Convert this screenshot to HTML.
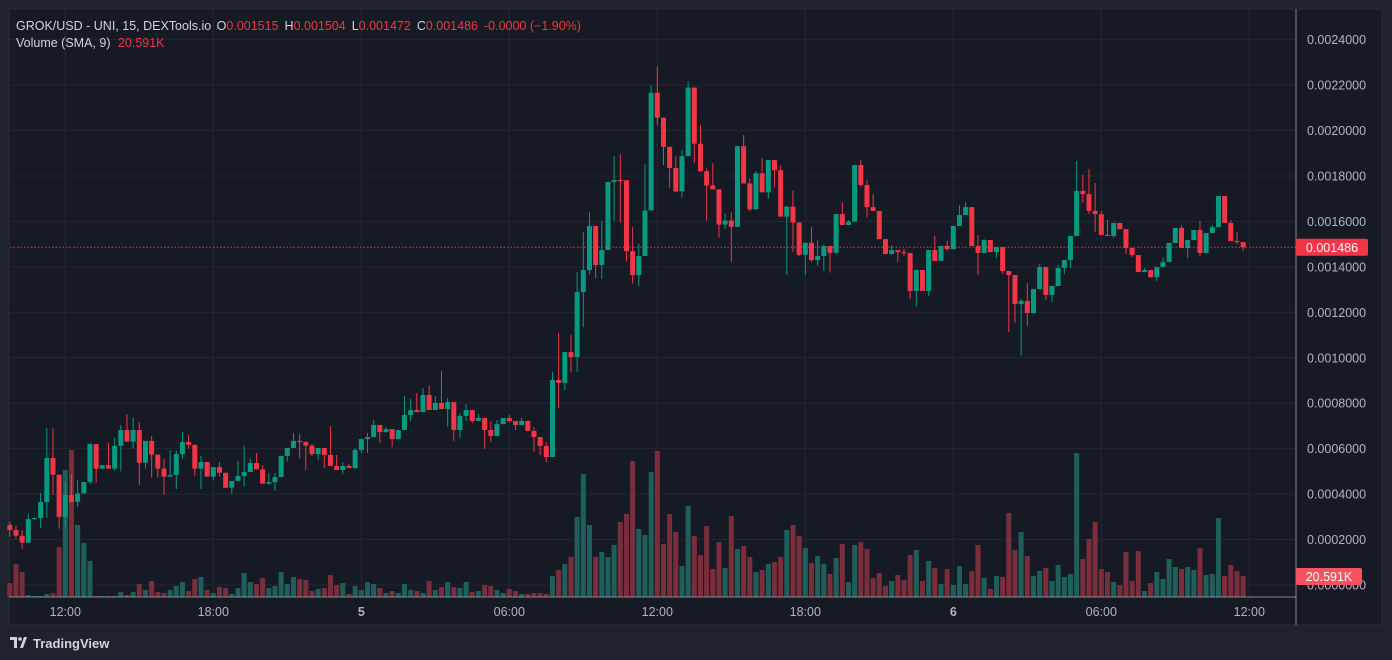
<!DOCTYPE html>
<html><head><meta charset="utf-8">
<style>
html,body{margin:0;padding:0;background:#1e222d;width:1392px;height:660px;overflow:hidden;font-family:"Liberation Sans",sans-serif;}
svg{display:block}
</style></head>
<body>
<svg id="chart" width="1392" height="660" xmlns="http://www.w3.org/2000/svg">
  <rect x="0" y="0" width="1392" height="660" fill="#1e222d"/>
  <rect x="9" y="9" width="1373" height="616" fill="#161a25" stroke="#2a2e39"/>
  <g id="grid"></g>
  <g id="vols"></g>
  <g id="candles"></g>
  <line x1="1296" y1="9" x2="1296" y2="625" stroke="#b2b5be" stroke-width="1" opacity="0.7"/>
  <line x1="9" y1="597" x2="1296" y2="597" stroke="#b2b5be" stroke-width="1" opacity="0.7"/>
  <g id="yticks"></g>
  <g id="xticks"></g>
  <line id="lastline" x1="10" x2="1296" stroke="#f23645" stroke-width="1" stroke-dasharray="1.5,2"/>
  <g>
    <rect id="lastbox" x="1296" width="72" height="17" rx="2" fill="#f23645"/>
    <text id="lasttext" x="1332" fill="#ffffff" font-size="12.5" text-anchor="middle">0.001486</text>
  </g>
  <g>
    <rect x="1296" y="568" width="66" height="17" rx="2" fill="#f7525f"/>
    <text x="1329" y="581" fill="#ffffff" font-size="12.5" text-anchor="middle">20.591K</text>
  </g>
  <g font-size="12.5">
    <text x="16" y="30" fill="#d1d4dc">GROK/USD - UNI, 15, DEXTools.io <tspan dx="2">O</tspan><tspan fill="#f23645">0.001515</tspan><tspan dx="6">H</tspan><tspan fill="#f23645">0.001504</tspan><tspan dx="6">L</tspan><tspan fill="#f23645">0.001472</tspan><tspan dx="6">C</tspan><tspan fill="#f23645">0.001486</tspan><tspan dx="6" fill="#f23645">-0.0000 (−1.90%)</tspan></text>
    <text x="16" y="47" fill="#d1d4dc">Volume (SMA, 9) <tspan dx="4" fill="#f23645">20.591K</tspan></text>
  </g>
  <g>
    <path d="M10 637 h7 v11 h-3 v-8 h-4z M20 648 l4-11 h3 l-4 11z" fill="#d1d4dc"/>
    <circle cx="20" cy="639" r="1.8" fill="#d1d4dc"/>
    <text x="33" y="648" fill="#d1d4dc" font-size="13" font-weight="bold">TradingView</text>
  </g>
</svg>
<script>
const firstOpen = 264;
const closes = [242,217,186,290,295,365,559,485,300,396,366,403,453,620,512,527,512,612,682,631,682,538,634,574,512,477,484,576,629,617,512,541,477,519,
494,428,458,480,497,537,509,446,453,475,568,603,634,629,613,576,603,572,524,506,524,515,594,642,651,704,673,686,642,682,748,770,761,
836,770,801,774,805,682,744,770,722,735,682,656,708,735,722,704,722,678,651,612,563,902,889,1025,1003,1289,1386,1580,1408,1474,1773,1782,
1781,1469,1364,1448,1648,2166,2056,1928,1835,1732,1887,2189,1942,1821,1758,1741,1586,1604,1576,1931,1767,1653,1812,1728,1870,1825,1621,1665,1595,1453,1506,1430,1448,1492,1462,
1632,1584,1599,1848,1760,1663,1646,1522,1456,1474,1465,1461,1294,1386,1294,1474,1426,1492,1478,1580,1628,1663,1492,1461,1518,1465,1487,1382,1364,1236,1250,1197,1302,1399,1276,
1316,1395,1430,1536,1734,1720,1646,1632,1540,1536,1593,1566,1483,1452,1377,1386,1355,1399,1421,1505,1571,1483,1518,1562,1461,1549,1575,1712,1593,1514,1509,1486];
const highs = [279,260,242,312,295,405,691,691,485,455,488,462,453,625,620,527,626,647,704,752,739,717,634,656,574,554,594,591,673,660,617,568,541,519,
541,494,458,546,612,554,581,528,493,493,568,603,669,664,634,620,603,603,700,572,541,532,603,642,669,726,704,695,686,682,832,818,845,
867,880,832,942,823,805,757,796,770,752,735,722,726,735,748,722,735,722,695,651,629,937,1109,1025,1100,1377,1553,1641,1580,1602,1773,1888,
1896,1781,1576,1502,1851,2198,2282,2056,1928,1887,1914,2215,2189,2024,1833,1856,1741,1635,1639,1931,1980,1790,1821,1879,1870,1870,1847,1665,1737,1595,1506,1576,1517,1497,1492,
1632,1685,1606,1848,1870,1782,1720,1646,1522,1496,1474,1480,1461,1386,1386,1474,1536,1492,1515,1580,1672,1685,1663,1540,1522,1518,1487,1487,1382,1364,1258,1329,1302,1412,1399,
1316,1408,1430,1536,1866,1804,1830,1769,1646,1606,1593,1593,1566,1483,1452,1395,1386,1399,1443,1505,1571,1584,1518,1562,1602,1549,1584,1712,1712,1606,1553,1509];
const lows = [212,204,160,186,286,252,296,396,248,256,366,343,403,444,449,512,512,502,500,631,600,441,512,472,472,397,477,422,554,600,480,422,477,462,
477,428,400,458,433,497,509,446,440,415,475,543,603,556,506,568,550,515,524,506,488,515,510,581,581,651,625,669,607,642,682,722,761,
761,770,770,774,695,634,647,722,713,722,598,629,656,708,717,682,704,678,585,572,541,563,779,858,937,937,1135,1368,1351,1346,1474,1602,
1596,1424,1327,1317,1448,1648,2024,1848,1749,1728,1705,1887,1856,1818,1604,1741,1528,1567,1422,1576,1767,1644,1653,1728,1700,1749,1621,1364,1466,1448,1364,1421,1405,1382,1375,
1458,1584,1584,1599,1753,1619,1646,1522,1456,1456,1421,1448,1258,1225,1294,1272,1426,1426,1470,1478,1580,1628,1492,1364,1461,1465,1439,1368,1113,1153,1008,1140,1192,1302,1254,
1245,1316,1368,1395,1536,1681,1632,1553,1540,1536,1527,1566,1456,1443,1377,1377,1351,1338,1399,1421,1505,1483,1439,1518,1448,1461,1549,1575,1593,1514,1500,1470];
const volumes = [14,33,25,2,1,1,3,4,50,127,147,72,54,36,1,1,1,1,5,2,5,13,7,16,5,4,7,11,15,6,18,20,7,4,
10,9,3,9,24,15,13,19,9,11,25,13,20,18,17,6,8,9,22,12,14,3,11,7,15,13,9,4,6,4,13,7,6,
4,16,7,10,15,10,9,15,5,6,12,11,7,4,8,6,3,3,4,4,3,21,27,33,40,80,123,72,40,45,40,52,
75,83,136,68,62,125,146,53,83,65,31,91,61,42,71,28,55,29,81,48,51,40,25,27,33,35,40,67,72,61,49,34,41,33,23,
39,53,15,52,55,48,19,24,11,16,22,17,42,47,16,36,29,13,28,12,31,13,26,52,19,8,21,20,84,47,65,41,21,26,29,
16,32,20,23,144,38,58,75,28,25,15,12,45,16,46,6,14,25,18,38,30,28,30,27,49,22,23,79,21,32,26,21];
const priceTicks = [2400,2200,2000,1800,1600,1400,1200,1000,800,600,400,200,0];
const timeLabels = ["12:00","18:00","5","06:00","12:00","18:00","6","06:00","12:00"];
const timeLabelIndex = [9,33,57,81,105,129,153,177,201];
const lastPrice = 1486;

const NS = "http://www.w3.org/2000/svg";
const xOf = i => 9.8 + i * 6.1667;
const yOf = p => 585 - p * 0.22725;
const volY = v => 597 - v * 1.0;
function mk(tag, attrs, parent){const e=document.createElementNS(NS,tag);for(const k in attrs)e.setAttribute(k,attrs[k]);parent.appendChild(e);return e;}
const grid=document.getElementById('grid'), vols=document.getElementById('vols'), cg=document.getElementById('candles');
const yt=document.getElementById('yticks'), xt=document.getElementById('xticks');

priceTicks.forEach(p=>{
  const y=yOf(p);
  const l=mk('line',{x1:10,x2:1296,y1:y,y2:y,stroke:'#242733','stroke-width':1},grid);
  
  
  const t=mk('text',{x:1307,y:y+4.5,fill:'#b2b5be','font-size':12.5},yt);
  t.textContent=(p/1e6).toFixed(7);
  
  
});
timeLabels.forEach((lab,k)=>{
  const x=xOf(timeLabelIndex[k]);
  const l=mk('line',{x1:x,x2:x,y1:10,y2:597,stroke:'#242733','stroke-width':1},grid);
  
  
  const t=mk('text',{x:x,y:616,fill:'#b2b5be','font-size':12.5,'text-anchor':'middle','font-weight':(lab.length<3?'bold':'normal')},xt);
  t.textContent=lab;
  
  
});

closes.forEach((c,i)=>{
  const o = i===0 ? firstOpen : closes[i-1];
  const up = c>=o;
  const col = up ? '#089981' : '#f23645';
  const x = xOf(i);
  const v = volumes[i];
  const vb=mk('rect',{x:x-2.5,y:volY(v),width:5,height:597-volY(v),fill:up?'#1f5f5a':'#7a2e3b'},vols);
  
  
  const w=mk('line',{x1:x,x2:x,y1:yOf(highs[i]),y2:yOf(lows[i]),stroke:col,'stroke-width':1},cg);
  
  
  const top=yOf(Math.max(o,c)), bot=yOf(Math.min(o,c));
  const b=mk('rect',{x:x-2.5,y:top,width:5,height:Math.max(1,bot-top),fill:col},cg);
  
  
});
const ly=yOf(lastPrice);
document.getElementById('lastline').setAttribute('y1',ly);
document.getElementById('lastline').setAttribute('y2',ly);
document.getElementById('lastbox').setAttribute('y',ly-8.5);
document.getElementById('lasttext').setAttribute('y',ly+4.5);
</script>
</body></html>
